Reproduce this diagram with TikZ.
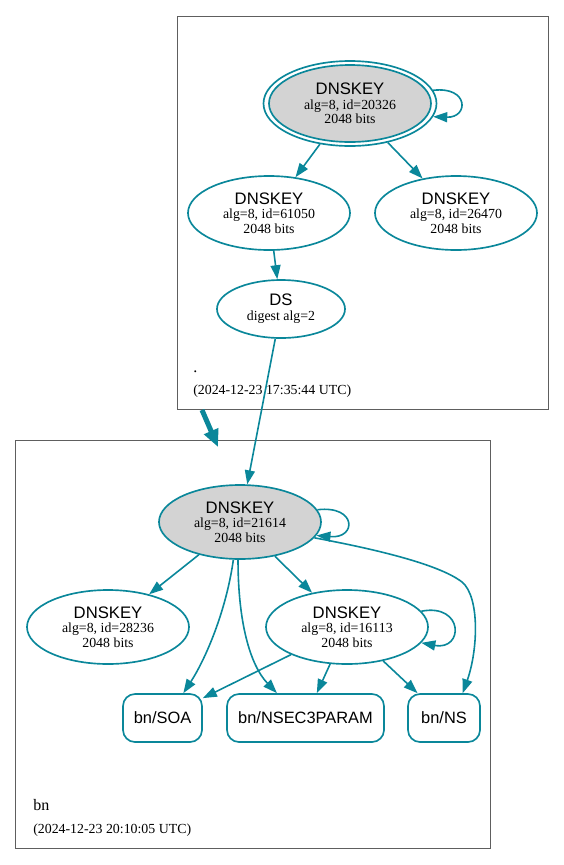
\documentclass[tikz,border=0pt]{standalone}
\usepackage{fontspec}
\setmainfont{Liberation Serif}
\setsansfont{Liberation Sans}
\usetikzlibrary{shapes.geometric,arrows.meta}
\definecolor{edgeteal}{HTML}{0A879A}
\definecolor{keygray}{HTML}{D3D3D3}
\definecolor{clustergray}{HTML}{5E5E5E}
\begin{document}
\begin{tikzpicture}[x=0.75pt,y=-0.75pt,
  keynode/.style={ellipse, draw=edgeteal, line width=1.25pt, inner sep=0pt, align=center,
    font=\fontsize{10.4}{11}\selectfont, minimum width=121.5pt, minimum height=55.5pt},
  rrnode/.style={rectangle, rounded corners=9pt, draw=edgeteal, line width=1.25pt, inner sep=0pt,
    minimum height=36pt, font=\sffamily\fontsize{12.3}{14}\selectfont},
  conn/.style={draw=edgeteal, line width=1.2pt, -{Triangle[length=10.5pt,width=7.5pt]}},
  deleg/.style={draw=edgeteal, line width=3.75pt, -{Triangle[length=13pt,width=11pt]}},
  cluster/.style={draw=clustergray, line width=0.75pt},
  lbl/.style={anchor=base west, inner sep=0pt},
  hd/.style={font=\sffamily\fontsize{12}{14}\selectfont}
]
\useasboundingbox (0,0) rectangle (564,865);
% clusters
\draw[cluster] (177,16) rectangle (548,409);
\draw[cluster] (15,440) rectangle (490,848);

% top zone
\draw[draw=edgeteal, line width=1.25pt, fill=keygray] (350,103.5) ellipse [x radius=81, y radius=38.5];
\node[keynode, minimum width=129.75pt, minimum height=63.75pt] (k20326) at (350,103.5)
  {\textsf{\fontsize{12.5}{14}\selectfont DNSKEY}\\alg=8, id=20326\\2048 bits};
\node[keynode] (k61050) at (269,213) {\textsf{\fontsize{12.5}{14}\selectfont DNSKEY}\\alg=8, id=61050\\2048 bits};
\node[keynode] (k26470) at (456,213) {\textsf{\fontsize{12.5}{14}\selectfont DNSKEY}\\alg=8, id=26470\\2048 bits};
\node[keynode, minimum width=96pt, minimum height=43.5pt] (ds) at (281,309)
  {\textsf{\fontsize{12.5}{14}\selectfont DS}\\digest alg=2};
\node[lbl, font=\fontsize{12}{14}\selectfont] (rootname) at (193,372) {.};
\node[lbl, font=\fontsize{10.4}{12}\selectfont] (rootdate) at (193,394) {(2024-12-23 17:35:44 UTC)};

% bottom zone
\node[keynode, fill=keygray] (k21614) at (240,522) {\textsf{\fontsize{12.5}{14}\selectfont DNSKEY}\\alg=8, id=21614\\2048 bits};
\node[keynode] (k28236) at (108,627) {\textsf{\fontsize{12.5}{14}\selectfont DNSKEY}\\alg=8, id=28236\\2048 bits};
\node[keynode] (k16113) at (347,627) {\textsf{\fontsize{12.5}{14}\selectfont DNSKEY}\\alg=8, id=16113\\2048 bits};
\node[rrnode, minimum width=59.25pt] (soa) at (162.5,718) {bn/SOA};
\node[rrnode, minimum width=117.75pt] (nsec) at (305.5,718) {bn/NSEC3PARAM};
\node[rrnode, minimum width=54pt] (ns) at (444,718) {bn/NS};
\node[lbl, font=\fontsize{12}{14}\selectfont] (bnname) at (33,810) {bn};
\node[lbl, font=\fontsize{10.4}{12}\selectfont] (bndate) at (33,833) {(2024-12-23 20:10:05 UTC)};

% edges top
\draw[conn] (k20326.9) .. controls (469,86) and (469,118) .. (k20326.-9);
\draw[conn] (k20326) -- (k61050);
\draw[conn] (k20326) -- (k26470);
\draw[conn] (k61050) -- (ds);
\draw[conn] (ds) -- (k21614);

% delegation
\coordinate (d1) at (202,410);
\coordinate (d2) at (218,447);
\draw[deleg] (d1) -- (d2);

% edges bottom
\draw[conn] (k21614.9) .. controls (357,505) and (357,539) .. (k21614.-10);
\draw[conn] (k21614) -- (k28236);
\draw[conn] (k21614) -- (k16113);
\draw[conn] (k21614.-100) .. controls (226,612) and (205,660) .. (soa.50);
\draw[conn] (k21614.-93) .. controls (238,622) and (250,665) .. (nsec.139);
\draw[conn] (k21614.-12) .. controls (380,550) and (440,565) .. (462,582)
  .. controls (480,597) and (478,650) .. (ns.53);
\draw[conn] (k16113.12) .. controls (464,603) and (464,651) .. (k16113.-12);
\draw[conn] (k16113) -- (soa);
\draw[conn] (k16113) -- (nsec);
\draw[conn] (k16113) -- (ns);
\end{tikzpicture}
\end{document}
